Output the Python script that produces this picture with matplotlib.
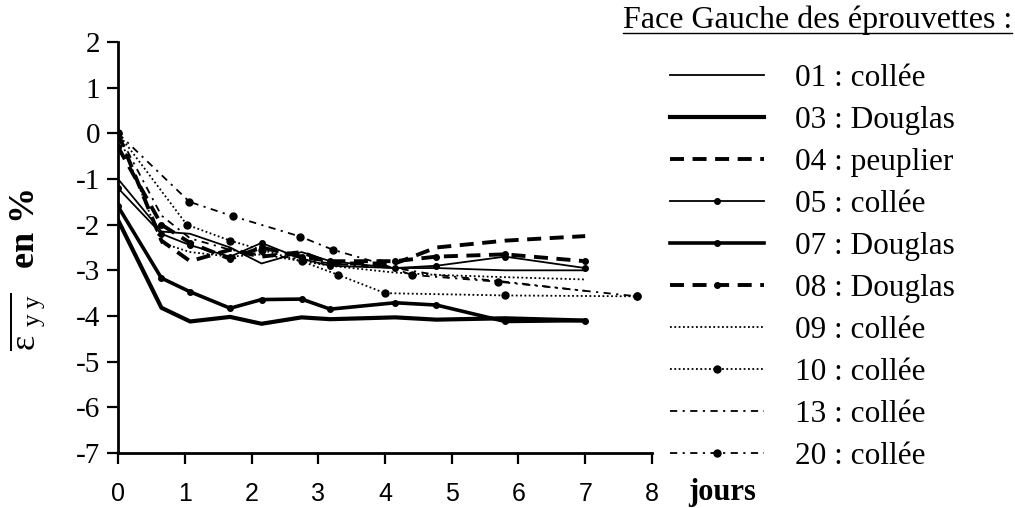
import matplotlib
matplotlib.use('Agg')
import matplotlib.pyplot as plt
from matplotlib.lines import Line2D

plt.rcParams['font.family'] = ['Liberation Serif', 'DejaVu Serif']
plt.rcParams['mathtext.fontset'] = 'custom'
plt.rcParams['mathtext.rm'] = 'Liberation Serif'
plt.rcParams['mathtext.bf'] = 'Liberation Serif:bold'
plt.rcParams['mathtext.it'] = 'Liberation Serif:italic'

# ---------------- data (days, strain %) ----------------
days = [0, 0.65, 1.08, 1.68, 2.15, 2.75, 3.18, 4.15, 4.77, 5.8, 7.0]

s01 = [-1.0, -2.15, -2.2, -2.5, -2.85, -2.6, -2.8, -2.95, -2.95, -3.0, -3.0]
s03 = [-1.9, -3.82, -4.12, -4.02, -4.17, -4.03, -4.07, -4.03, -4.08, -4.05, -4.1]
s04 = [0.0, -2.35, -2.8, -2.55, -2.7, -2.6, -2.85, -2.85, -2.5, -2.35, -2.25]
s05 = [-1.2, -2.2, -2.45, -2.7, -2.4, -2.75, -2.9, -2.95, -2.9, -2.7, -2.95]
s07 = [-1.6, -3.17, -3.47, -3.83, -3.64, -3.63, -3.85, -3.71, -3.76, -4.12, -4.1]
s08 = [-0.3, -2.0, -2.4, -2.75, -2.5, -2.7, -2.8, -2.8, -2.7, -2.65, -2.8]
s09 = [0.0, -2.4, -2.6, -2.7, -2.65, -2.8, -2.9, -3.05, -3.1, -3.15, -3.2]
s13 = [0.0, -1.8, -2.3, -2.55, -2.65, -2.75, -2.85, -2.95, -3.1, -3.25, -3.45]

days10 = [0, 1.03, 1.68, 2.15, 2.75, 3.3, 4.0, 5.8, 7.78]
s10 = [0.0, -2.0, -2.35, -2.55, -2.8, -3.1, -3.5, -3.55, -3.57]

days20 = [0, 1.07, 1.73, 2.73, 3.22, 3.93, 4.4, 5.7, 7.78]
s20 = [0.0, -1.5, -1.82, -2.26, -2.55, -2.85, -3.1, -3.25, -3.57]

labels = ['01 : collée', '03 : Douglas', '04 : peuplier', '05 : collée',
          '07 : Douglas', '08 : Douglas', '09 : collée', '10 : collée',
          '13 : collée', '20 : collée']
title_text = 'Face Gauche des éprouvettes :'
xticks = [0, 1, 2, 3, 4, 5, 6, 7, 8]
yticks = [2, 1, 0, -1, -2, -3, -4, -5, -6, -7]

# ---------------- figure ----------------
fig = plt.figure(figsize=(10.15, 5.08), dpi=100)
ax = fig.add_axes([0.1163, 0.1083, 0.526, 0.809])

k = 'black'
dash = (0, (3.6, 2.2))
dashdot = (0, (4, 3, 1.2, 3))
dots = (0, (1, 1.4))
h = []
h += ax.plot(days, s01, color=k, lw=1.3, ls='-')
h += ax.plot(days, s03, color=k, lw=3.0, ls='-')
h += ax.plot(days, s04, color=k, lw=2.8, ls=dash)
h += ax.plot(days, s05, color=k, lw=1.3, ls='-', marker='o', ms=4)
h += ax.plot(days, s07, color=k, lw=2.6, ls='-', marker='o', ms=4)
h += ax.plot(days, s08, color=k, lw=2.8, ls=dash, marker='o', ms=4)
h += ax.plot(days, s09, color=k, lw=1.3, ls=dots)
h += ax.plot(days10, s10, color=k, lw=1.3, ls=dots, marker='o', ms=5)
h += ax.plot(days, s13, color=k, lw=1.3, ls=dashdot)
h += ax.plot(days20, s20, color=k, lw=1.3, ls=dashdot, marker='o', ms=5)

ax.set_xlim(0, 8)
ax.set_ylim(-7, 2)
ax.set_xticks(xticks)
ax.set_yticks(yticks)
ax.set_yticklabels([str(v) for v in yticks])
for s in ['top', 'right']:
    ax.spines[s].set_visible(False)
for s in ['left', 'bottom']:
    ax.spines[s].set_linewidth(2)
ax.tick_params(axis='both', direction='out', length=8, width=1.6, color=k)
ax.tick_params(axis='y', labelsize=21, pad=5)
ax.tick_params(axis='x', labelsize=18, pad=13)
for lbl in ax.get_xticklabels():
    lbl.set_fontfamily(['Liberation Sans', 'DejaVu Sans'])

ax.set_ylabel(r'$\overline{\mathrm{ε}\ _{\mathrm{y\ y}}}\quad\mathbf{en}\ \mathbf{\%}$', fontsize=26)
ax.yaxis.label.set_verticalalignment('center')
ax.yaxis.set_label_coords(-0.168, 0.445)
ax.set_xlabel('jours', fontsize=22, fontweight='bold')
ax.xaxis.set_label_coords(1.131, -0.097)
ax.xaxis.label.set_verticalalignment('center')

leg = ax.legend(h, labels, loc='upper left', bbox_to_anchor=(0.660, 0.874),
                bbox_transform=fig.transFigure, frameon=False, fontsize=22.5,
                handlelength=3.0, handletextpad=1.0, labelspacing=0.415,
                borderpad=0, borderaxespad=0, numpoints=1)

t = fig.text(1012 / 1015, 1 - 20 / 508, title_text, fontsize=23, ha='right', va='center')
fig.canvas.draw()
bb = t.get_window_extent()
W, H = fig.bbox.width, fig.bbox.height
uy = (bb.y0 + 2) / H
fig.add_artist(Line2D([bb.x0 / W, bb.x1 / W], [uy, uy], color=k, lw=1.0,
                      transform=fig.transFigure))

fig.savefig('out.png', dpi=100, facecolor='white')
